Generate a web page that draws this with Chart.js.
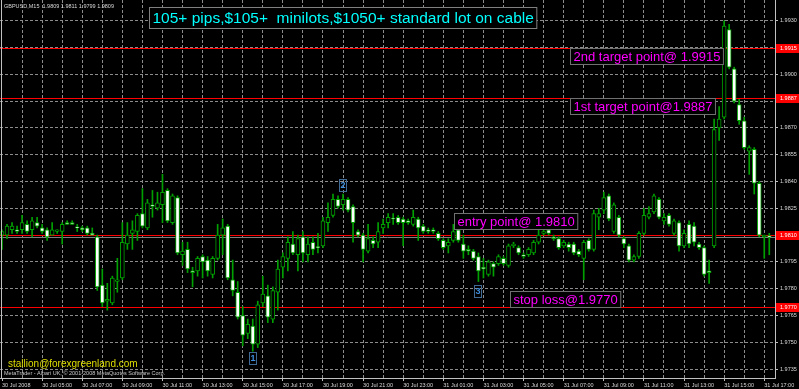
<!DOCTYPE html>
<html>
<head>
  <title>GBPUSD,M15</title>
  <script src="https://cdn.jsdelivr.net/npm/chart.js"></script>
  <style>
    body {
      margin: 0;
      background: #000;
    }
  </style>
</head>
<body>
  <canvas id="chart" width="799" height="389"></canvas>

  <script>
    // GBPUSD M15, 30 Jul 2008 03:00 -> 31 Jul 2008 17:15, one entry per bar
    var openPrices = [
      1.9810, 1.9810, 1.9813, 1.9813, 1.9813, 1.9816, 1.9813, 1.9817, 1.9814, 1.9813,
      1.9810, 1.9812, 1.9812, 1.9817, 1.9817, 1.9814, 1.9814, 1.9814, 1.9811, 1.9809,
      1.9782, 1.9773, 1.9772, 1.9784, 1.9786, 1.9805, 1.9811, 1.9812, 1.9822, 1.9814,
      1.9827, 1.9825, 1.9827, 1.9835, 1.9817, 1.9831, 1.9799, 1.9802, 1.9790, 1.9790,
      1.9798, 1.9796, 1.9788, 1.9797, 1.9810, 1.9815, 1.9785, 1.9778, 1.9765, 1.9755,
      1.9759, 1.9749, 1.9772, 1.9776, 1.9763, 1.9778, 1.9792, 1.9797, 1.9805, 1.9799,
      1.9809, 1.9799, 1.9806, 1.9803, 1.9804, 1.9817, 1.9821, 1.9830, 1.9827, 1.9830,
      1.9826, 1.9812, 1.9810, 1.9801, 1.9807, 1.9806, 1.9814, 1.9817, 1.9819, 1.9820,
      1.9819, 1.9818, 1.9816, 1.9819, 1.9815, 1.9813, 1.9813, 1.9811, 1.9807, 1.9804,
      1.9807, 1.9813, 1.9805, 1.9802, 1.9801, 1.9798, 1.9792, 1.9788, 1.9794, 1.9794,
      1.9797, 1.9793, 1.9804, 1.9803, 1.9799, 1.9799, 1.9800, 1.9806, 1.9811, 1.9813,
      1.9809, 1.9808, 1.9804, 1.9805, 1.9805, 1.9801, 1.9797, 1.9807, 1.9802, 1.9820,
      1.9824, 1.9832, 1.9812, 1.9820, 1.9808, 1.9804, 1.9796, 1.9798, 1.9811, 1.9820,
      1.9823, 1.9830, 1.9818, 1.9821, 1.9811, 1.9817, 1.9804, 1.9816, 1.9815, 1.9805,
      1.9803, 1.9790, 1.9804, 1.9870, 1.9876, 1.9925, 1.9903, 1.9883, 1.9874, 1.9857,
      1.9858, 1.9839, 1.9809, 1.9809
    ];
    var highPrices = [
      1.9813, 1.9816, 1.9817, 1.9815, 1.9821, 1.9818, 1.9820, 1.9820, 1.9816, 1.9814,
      1.9817, 1.9813, 1.9817, 1.9818, 1.9818, 1.9816, 1.9815, 1.9815, 1.9814, 1.9810,
      1.9791, 1.9783, 1.9787, 1.9797, 1.9817, 1.9817, 1.9818, 1.9822, 1.9836, 1.9830,
      1.9835, 1.9834, 1.9844, 1.9836, 1.9833, 1.9832, 1.9806, 1.9806, 1.9792, 1.9798,
      1.9799, 1.9798, 1.9798, 1.9816, 1.9819, 1.9816, 1.9796, 1.9784, 1.9770, 1.9763,
      1.9763, 1.9773, 1.9787, 1.9782, 1.9781, 1.9796, 1.9800, 1.9809, 1.9812, 1.9810,
      1.9812, 1.9809, 1.9809, 1.9811, 1.9820, 1.9828, 1.9833, 1.9832, 1.9833, 1.9831,
      1.9827, 1.9813, 1.9811, 1.9816, 1.9809, 1.9817, 1.9819, 1.9822, 1.9822, 1.9821,
      1.9820, 1.9819, 1.9824, 1.9820, 1.9816, 1.9814, 1.9814, 1.9812, 1.9808, 1.9808,
      1.9816, 1.9814, 1.9810, 1.9804, 1.9802, 1.9800, 1.9797, 1.9796, 1.9795, 1.9799,
      1.9798, 1.9805, 1.9806, 1.9804, 1.9800, 1.9803, 1.9807, 1.9814, 1.9813, 1.9815,
      1.9810, 1.9809, 1.9807, 1.9806, 1.9806, 1.9802, 1.9807, 1.9808, 1.9824, 1.9825,
      1.9834, 1.9833, 1.9828, 1.9821, 1.9809, 1.9805, 1.9799, 1.9812, 1.9825, 1.9826,
      1.9833, 1.9831, 1.9822, 1.9822, 1.9819, 1.9818, 1.9813, 1.9818, 1.9817, 1.9806,
      1.9804, 1.9796, 1.9875, 1.9882, 1.9930, 1.9928, 1.9904, 1.9886, 1.9876, 1.9860,
      1.9859, 1.9840, 1.9810, 1.9811
    ];
    var lowPrices = [
      1.9802, 1.9808, 1.9811, 1.9811, 1.9811, 1.9811, 1.9809, 1.9814, 1.9811, 1.9807,
      1.9810, 1.9811, 1.9805, 1.9816, 1.9816, 1.9812, 1.9812, 1.9810, 1.9810, 1.9779,
      1.9770, 1.9768, 1.9771, 1.9778, 1.9785, 1.9802, 1.9802, 1.9807, 1.9814, 1.9813,
      1.9820, 1.9824, 1.9817, 1.9817, 1.9816, 1.9799, 1.9793, 1.9789, 1.9781, 1.9787,
      1.9786, 1.9787, 1.9786, 1.9796, 1.9799, 1.9785, 1.9776, 1.9763, 1.9748, 1.9752,
      1.9745, 1.9747, 1.9770, 1.9761, 1.9761, 1.9768, 1.9786, 1.9790, 1.9799, 1.9790,
      1.9795, 1.9795, 1.9799, 1.9800, 1.9803, 1.9812, 1.9820, 1.9825, 1.9824, 1.9823,
      1.9806, 1.9809, 1.9795, 1.9800, 1.9803, 1.9803, 1.9811, 1.9814, 1.9816, 1.9816,
      1.9804, 1.9816, 1.9815, 1.9807, 1.9811, 1.9811, 1.9811, 1.9807, 1.9802, 1.9800,
      1.9806, 1.9806, 1.9797, 1.9799, 1.9796, 1.9784, 1.9786, 1.9787, 1.9787, 1.9793,
      1.9793, 1.9792, 1.9803, 1.9799, 1.9797, 1.9798, 1.9799, 1.9805, 1.9810, 1.9810,
      1.9807, 1.9802, 1.9803, 1.9801, 1.9799, 1.9798, 1.9785, 1.9801, 1.9801, 1.9813,
      1.9822, 1.9818, 1.9811, 1.9809, 1.9803, 1.9795, 1.9795, 1.9797, 1.9810, 1.9819,
      1.9822, 1.9819, 1.9816, 1.9815, 1.9810, 1.9801, 1.9803, 1.9803, 1.9804, 1.9802,
      1.9787, 1.9783, 1.9803, 1.9863, 1.9875, 1.9903, 1.9884, 1.9872, 1.9858, 1.9844,
      1.9833, 1.9809, 1.9797, 1.9799
    ];
    var closePrices = [
      1.9812, 1.9815, 1.9815, 1.9812, 1.9817, 1.9812, 1.9818, 1.9815, 1.9812, 1.9809,
      1.9813, 1.9813, 1.9816, 1.9816, 1.9816, 1.9814, 1.9813, 1.9811, 1.9810, 1.9781,
      1.9772, 1.9774, 1.9786, 1.9785, 1.9806, 1.9810, 1.9813, 1.9821, 1.9815, 1.9828,
      1.9826, 1.9828, 1.9834, 1.9818, 1.9832, 1.9800, 1.9801, 1.9791, 1.9789, 1.9797,
      1.9795, 1.9790, 1.9797, 1.9810, 1.9814, 1.9786, 1.9779, 1.9764, 1.9754, 1.9760,
      1.9749, 1.9771, 1.9777, 1.9764, 1.9779, 1.9791, 1.9798, 1.9806, 1.9800, 1.9808,
      1.9800, 1.9805, 1.9802, 1.9803, 1.9818, 1.9820, 1.9830, 1.9826, 1.9830, 1.9824,
      1.9817, 1.9810, 1.9802, 1.9808, 1.9805, 1.9812, 1.9816, 1.9820, 1.9819, 1.9817,
      1.9817, 1.9817, 1.9820, 1.9814, 1.9812, 1.9812, 1.9812, 1.9808, 1.9803, 1.9806,
      1.9812, 1.9807, 1.9801, 1.9801, 1.9797, 1.9790, 1.9791, 1.9795, 1.9792, 1.9798,
      1.9794, 1.9804, 1.9805, 1.9800, 1.9798, 1.9802, 1.9806, 1.9810, 1.9812, 1.9811,
      1.9808, 1.9803, 1.9806, 1.9803, 1.9800, 1.9799, 1.9806, 1.9802, 1.9822, 1.9822,
      1.9831, 1.9819, 1.9827, 1.9810, 1.9805, 1.9796, 1.9798, 1.9811, 1.9821, 1.9822,
      1.9832, 1.9820, 1.9820, 1.9816, 1.9818, 1.9804, 1.9811, 1.9805, 1.9806, 1.9803,
      1.9788, 1.9789, 1.9869, 1.9875, 1.9927, 1.9904, 1.9885, 1.9874, 1.9859, 1.9859,
      1.9839, 1.9810, 1.9810, 1.9809
    ];

    var xTickIndex = [0, 8, 16, 24, 32, 40, 48, 56, 64, 72, 80, 88, 96, 104, 112, 120, 128, 136, 144, 152];
    var xTickLabels = [
      '30 Jul 2008', '30 Jul 05:00', '30 Jul 07:00', '30 Jul 09:00', '30 Jul 11:00',
      '30 Jul 13:00', '30 Jul 15:00', '30 Jul 17:00', '30 Jul 19:00', '30 Jul 21:00',
      '30 Jul 23:00', '31 Jul 01:00', '31 Jul 03:00', '31 Jul 05:00', '31 Jul 07:00',
      '31 Jul 09:00', '31 Jul 11:00', '31 Jul 13:00', '31 Jul 15:00', '31 Jul 17:00'
    ];
    var yTickValues = [1.9735, 1.9750, 1.9765, 1.9780, 1.9795, 1.9810, 1.9825, 1.9840,
                       1.9855, 1.9870, 1.9885, 1.9900, 1.9915, 1.9930];

    // horizontal lines drawn on the chart
    var levelPrices = [1.9915, 1.9887, 1.9810, 1.9770];
    var bidPrice = 1.9809;

    // text objects: left edge at bar index, top edge at price
    var noteTexts = ['2nd target point@ 1.9915', '1st target point@1.9887', 'entry point@ 1.9810', 'stop loss@1.9770'];
    var noteIndex = [113.3, 113.3, 90.1, 101.3];
    var notePrice = [1.9915, 1.98866, 1.98224, 1.97787];

    // numbered arrows under/over bars
    var markerTexts = ['1', '2', '3'];
    var markerIndex = [50, 68, 95];
    var markerPrice = [1.97407, 1.98373, 1.97782];

    var titleText = '105+ pips,$105+  minilots,$1050+ standard lot on cable';

    var green = '#00a000';
    var gridColor = '#8c8c8c';
    var axisColor = '#c0c0c0';
    var labelFont = { family: '"Liberation Sans", Arial, sans-serif', size: 5.5 };
    var FONT = '"Liberation Sans", Arial, sans-serif';

    var bodyData = [], wickData = [], bodyFill = [];
    for (var i = 0; i < openPrices.length; i++) {
      bodyData.push({ x: i, y: [openPrices[i], closePrices[i]] });
      wickData.push({ x: i, y: [lowPrices[i], highPrices[i]] });
      bodyFill.push(closePrices[i] > openPrices[i] ? '#000000' : '#ffffff');
    }

    var gridIndex = [];
    for (var g = 0; g <= 152; g += 4) gridIndex.push(g);

    // level lines go under the bars, everything else on top
    var overlay = {
      id: 'overlay',
      beforeDatasetsDraw: function (chart) {
        var ctx = chart.ctx, ys = chart.scales.y, area = chart.chartArea;
        ctx.save();
        ctx.lineWidth = 1;
        function hline(p, color) {
          var y = Math.round(ys.getPixelForValue(p)) + 0.5;
          ctx.strokeStyle = color;
          ctx.beginPath();
          ctx.moveTo(area.left, y);
          ctx.lineTo(area.right, y);
          ctx.stroke();
        }
        hline(bidPrice, '#808080');
        levelPrices.forEach(function (p) { hline(p, '#ff0000'); });
        ctx.restore();
      },
      afterDraw: function (chart) {
        var ctx = chart.ctx;
        var xs = chart.scales.x, ys = chart.scales.y;
        var area = chart.chartArea;
        ctx.save();

        // left frame line
        ctx.strokeStyle = axisColor;
        ctx.lineWidth = 1;
        ctx.beginPath();
        ctx.moveTo(area.left + 1.5, area.top);
        ctx.lineTo(area.left + 1.5, area.bottom);
        ctx.stroke();

        // price boxes on the right axis
        ctx.font = labelFont.size + 'px ' + FONT;
        ctx.textBaseline = 'middle';
        levelPrices.forEach(function (p) {
          var y = Math.round(ys.getPixelForValue(p));
          ctx.fillStyle = '#ff0000';
          ctx.fillRect(area.right + 1, y - 4, 23, 9);
          ctx.fillStyle = '#ffffff';
          ctx.fillText(p.toFixed(4), area.right + 5, y + 0.5);
        });

        // symbol header
        var n = openPrices.length - 1;
        ctx.fillStyle = '#d8d8d8';
        ctx.fillText('GBPUSD,M15  ' + [openPrices[n], highPrices[n], lowPrices[n], closePrices[n]]
          .map(function (v) { return v.toFixed(4); }).join(' '), 4, 6);

        // copyright line
        ctx.fillStyle = '#c8c8c8';
        ctx.fillText('MetaTrader - Alpari UK, \u00a9 2001-2008 MetaQuotes Software Corp.', 4, 373.5);

        // e-mail label
        ctx.font = '10px ' + FONT;
        ctx.fillStyle = '#dede00';
        ctx.fillText('stallion@forexgreenland.com', 8, 364);

        // title box
        ctx.font = '15.5px ' + FONT;
        var tw = ctx.measureText(titleText).width;
        ctx.fillStyle = '#000';
        ctx.fillRect(149.5, 7.5, tw + 6, 21);
        ctx.strokeStyle = '#808080';
        ctx.strokeRect(149.5, 7.5, tw + 6, 21);
        ctx.fillStyle = '#00ffff';
        ctx.fillText(titleText, 152.5, 18.5);

        // magenta notes
        ctx.font = '13px ' + FONT;
        noteTexts.forEach(function (t, k) {
          var x = Math.round(xs.getPixelForValue(noteIndex[k])) + 0.5;
          var y = Math.round(ys.getPixelForValue(notePrice[k])) + 0.5;
          var w = ctx.measureText(t).width + 6;
          ctx.fillStyle = '#000';
          ctx.fillRect(x, y, w, 16);
          ctx.strokeStyle = '#707070';
          ctx.strokeRect(x, y, w, 16);
          ctx.fillStyle = '#ff00ff';
          ctx.fillText(t, x + 3, y + 8.5);
        });

        // numbered markers
        ctx.font = 'bold 9px ' + FONT;
        ctx.textAlign = 'center';
        markerTexts.forEach(function (t, k) {
          var x = Math.round(xs.getPixelForValue(markerIndex[k]));
          var y = Math.round(ys.getPixelForValue(markerPrice[k]));
          ctx.strokeStyle = '#3f6a96';
          ctx.strokeRect(x - 3.5, y - 6.5, 7, 12);
          ctx.fillStyle = '#3d8fe0';
          ctx.fillText(t, x, y);
        });

        ctx.restore();
      }
    };

    var ctx = document.getElementById('chart').getContext('2d');
    var chart = new Chart(ctx, {
      type: 'bar',
      data: {
        datasets: [
          {
            label: 'body', data: bodyData,
            backgroundColor: bodyFill, borderColor: green, borderWidth: 1,
            borderSkipped: false, barThickness: 4, minBarLength: 1, grouped: false, order: 1
          },
          {
            label: 'wick', data: wickData,
            backgroundColor: green, borderWidth: 0, barThickness: 1, grouped: false, order: 2
          }
        ]
      },
      plugins: [overlay],
      options: {
        responsive: false,
        animation: false,
        layout: { padding: 0 },
        plugins: {
          legend: { display: false },
          tooltip: { enabled: false }
        },
        scales: {
          x: {
            type: 'linear',
            min: -0.4,
            max: 154.14,
            offset: false,
            afterBuildTicks: function (axis) {
              axis.ticks = gridIndex.map(function (v) { return { value: v }; });
            },
            afterFit: function (axis) {
              axis.height = 11;
              axis.paddingLeft = 0;
              axis.paddingRight = 0;
            },
            ticks: {
              autoSkip: false,
              maxRotation: 0,
              minRotation: 0,
              align: 'start',
              padding: 1,
              color: '#d8d8d8',
              font: labelFont,
              callback: function (v) {
                var k = xTickIndex.indexOf(v);
                return k >= 0 ? xTickLabels[k] : '';
              }
            },
            grid: {
              offset: false,
              color: function (c) {
                return c.tick && c.tick.value === 0 ? 'rgba(0,0,0,0)' : gridColor;
              },
              tickLength: 3,
              tickColor: function (c) {
                return c.tick && xTickIndex.indexOf(c.tick.value) >= 0 ? axisColor : 'rgba(0,0,0,0)';
              }
            },
            border: { display: true, color: axisColor, dash: [3, 2] }
          },
          y: {
            type: 'linear',
            position: 'right',
            min: 1.9730,
            max: 1.99416,
            afterBuildTicks: function (axis) {
              axis.ticks = yTickValues.map(function (v) { return { value: v }; });
            },
            afterFit: function (axis) {
              axis.width = 24;
              axis.paddingTop = 0;
              axis.paddingBottom = 0;
            },
            ticks: {
              autoSkip: false,
              padding: 2,
              color: '#d8d8d8',
              font: labelFont,
              callback: function (v) { return v.toFixed(4); }
            },
            grid: {
              color: gridColor,
              tickLength: 3,
              tickColor: axisColor
            },
            border: { display: true, color: axisColor, dash: [3, 2] }
          }
        }
      }
    });
  </script>
</body>
</html>
